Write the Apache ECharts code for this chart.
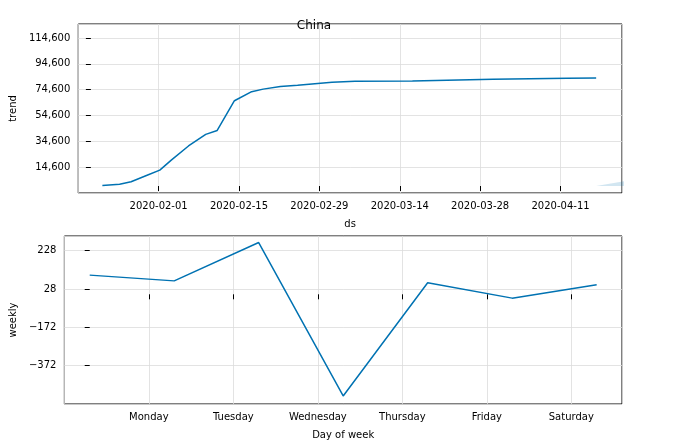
<!DOCTYPE html>
<html><head><meta charset="utf-8">
<script src="https://cdn.jsdelivr.net/npm/echarts@6/dist/echarts.min.js"></script>
<style>html,body{margin:0;background:#fff}#c{width:679px;height:441px}</style>
</head><body><div id="c"></div>
<script>
const trendDates = ['2020-01-22','2020-01-25','2020-01-27','2020-01-30','2020-02-01','2020-02-03','2020-02-06','2020-02-09','2020-02-11','2020-02-14','2020-02-17','2020-02-19','2020-02-22','2020-02-25','2020-03-02','2020-03-06','2020-03-16','2020-03-30','2020-04-12','2020-04-17'];
const trendValues = [500,1300,3300,8700,12300,20000,31000,40000,43000,66000,73000,75000,77000,78000,80400,81000,81200,82600,83400,83700];
const bandDates = ['2020-04-12','2020-04-14','2020-04-17'];
const bandUpper = [83400,93000,119000];
const bandLower = [83400,75500,53700];
const days = ['Sunday','Monday','Tuesday','Wednesday','Thursday','Friday','Saturday'];
const weeklyValues = [100,70,270,-530,60,-20,50];

const DAY = 86400e3;
const base = Date.UTC(2020,0,20);
const off = d => (new Date(d + 'T00:00:00Z').getTime() - base) / DAY;
const pad = n => (n < 10 ? '0' : '') + n;
const fmt = v => { const d = new Date(base + Math.round(v) * DAY); return d.getUTCFullYear() + '-' + pad(d.getUTCMonth()+1) + '-' + pad(d.getUTCDate()); };
const font = {fontFamily:'DejaVu Sans', fontSize:10, color:'#000'};
const gl = {show:true, lineStyle:{color:'#dcdcdc', width:0.8}};
const blue = '#0072B2';
const chart = echarts.init(document.getElementById('c'));
chart.setOption({
  animation:false,
  title:{text:'China', left:309, top:15, textAlign:'center', textStyle:{fontFamily:'DejaVu Sans', fontSize:12, fontWeight:'normal', color:'#000'}},
  grid:[
    {left:55, right:57, top:24, height:169, show:true, borderColor:'#000', borderWidth:1},
    {left:55, right:57, top:236, height:168, show:true, borderColor:'#000', borderWidth:1}
  ],
  xAxis:[
    {type:'value', gridIndex:0, min:-2.2, max:92.5, interval:14,
     name:'ds', nameLocation:'middle', nameGap:26, nameTextStyle:font,
     axisLine:{show:false}, axisTick:{show:true, lineStyle:{color:'#000'}},
     axisLabel:Object.assign({showMinLabel:false, showMaxLabel:false, formatter:v=>fmt(v)}, font),
     splitLine:gl},
    {type:'value', gridIndex:1, min:-0.3, max:6.3, interval:1,
     name:'Day of week', nameLocation:'middle', nameGap:26, nameTextStyle:font,
     axisLine:{show:false}, axisTick:{show:true, lineStyle:{color:'#000'}},
     axisLabel:Object.assign({showMinLabel:false, showMaxLabel:false, formatter:v=>days[Math.round(v)]||''}, font),
     splitLine:gl}
  ],
  yAxis:[
    {type:'value', gridIndex:0, min:-5400, max:125400, interval:20000,
     name:'trend', nameLocation:'middle', nameGap:46, nameTextStyle:font,
     axisLine:{show:false}, axisTick:{show:true, lineStyle:{color:'#000'}},
     axisLabel:Object.assign({showMinLabel:false, showMaxLabel:false}, font),
     splitLine:gl},
    {type:'value', gridIndex:1, min:-572, max:304, interval:200,
     name:'weekly', nameLocation:'middle', nameGap:32, nameTextStyle:font,
     axisLine:{show:false}, axisTick:{show:true, lineStyle:{color:'#000'}},
     axisLabel:Object.assign({showMinLabel:false, showMaxLabel:false, formatter:v=>String(v).replace('-','−')}, font),
     splitLine:gl}
  ],
  series:[
    {type:'line', xAxisIndex:0, yAxisIndex:0, stack:'band', symbol:'none', lineStyle:{opacity:0},
     data:bandDates.map((d,i)=>[off(d), bandLower[i]])},
    {type:'line', xAxisIndex:0, yAxisIndex:0, stack:'band', symbol:'none', lineStyle:{opacity:0},
     areaStyle:{color:'rgba(0,114,178,0.25)'},
     data:bandDates.map((d,i)=>[off(d), bandUpper[i]-bandLower[i]])},
    {type:'line', xAxisIndex:0, yAxisIndex:0, symbol:'none', lineStyle:{color:blue, width:1.5},
     data:trendDates.map((d,i)=>[off(d), trendValues[i]])},
    {type:'line', xAxisIndex:1, yAxisIndex:1, symbol:'none', lineStyle:{color:blue, width:1.5},
     data:weeklyValues.map((v,i)=>[i, v])}
  ]
});
</script></body></html>
